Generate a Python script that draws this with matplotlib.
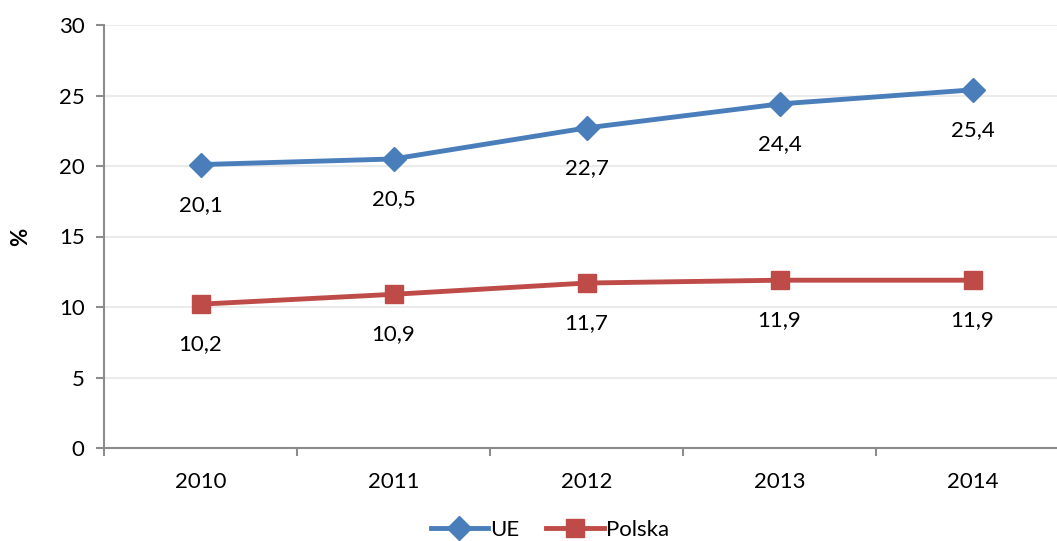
import matplotlib
matplotlib.use('Agg')
import matplotlib.pyplot as plt

plt.rcParams['font.family'] = ['Lato', 'DejaVu Sans']

years = ['2010', '2011', '2012', '2013', '2014']
ue = [20.1, 20.5, 22.7, 24.4, 25.4]
polska = [10.2, 10.9, 11.7, 11.9, 11.9]

blue = '#4a7ebb'
red = '#be4b48'
axis_gray = '#8c8c8c'

fig = plt.figure(figsize=(10.57, 5.41), dpi=100)
# prawa krawedz osi wychodzi poza obrazek jak w oryginale
ax = fig.add_axes([104/1057, 93/541, 965/1057, 423/541])

x = list(range(len(years)))
ax.plot(x, ue, color=blue, lw=3.5, marker='D', ms=12, label='UE')
ax.plot(x, polska, color=red, lw=3.5, marker='s', ms=13, label='Polska')

for i in x:
    ax.annotate(f'{ue[i]:.1f}'.replace('.', ','), (i, ue[i]), xytext=(0, -29),
                textcoords='offset points', ha='center', va='center', fontsize=16)
    ax.annotate(f'{polska[i]:.1f}'.replace('.', ','), (i, polska[i]), xytext=(0, -29),
                textcoords='offset points', ha='center', va='center', fontsize=16)

ax.set_xlim(-0.5, len(years) - 0.5)
ax.set_ylim(0, 30)
ax.set_yticks(range(0, 31, 5))
ax.set_xticks(x)
ax.set_xticklabels(years, fontsize=16)
ax.set_xticks([i - 0.5 for i in range(len(years) + 1)], minor=True)
ax.tick_params(axis='x', which='major', length=0, pad=17)
ax.tick_params(axis='x', which='minor', length=6, width=1.5, color=axis_gray)
ax.tick_params(axis='y', length=6, width=1.5, color=axis_gray, labelsize=16, pad=8)
ax.yaxis.grid(True, color='#ebebeb', lw=1.5)
ax.set_axisbelow(True)

for s in ['top', 'right']:
    ax.spines[s].set_visible(False)
for s in ['left', 'bottom']:
    ax.spines[s].set_color(axis_gray)
    ax.spines[s].set_linewidth(1.5)

ax.set_ylabel('%', fontsize=16, fontweight='bold')
ax.yaxis.set_label_coords(-0.076, 0.5)

fig.legend(loc='center', bbox_to_anchor=(550/1057, 1 - 530/541), ncol=2, frameon=False,
           fontsize=16, handlelength=2.6, handletextpad=0.1, columnspacing=1.2)

plt.savefig('out.png', dpi=100)
